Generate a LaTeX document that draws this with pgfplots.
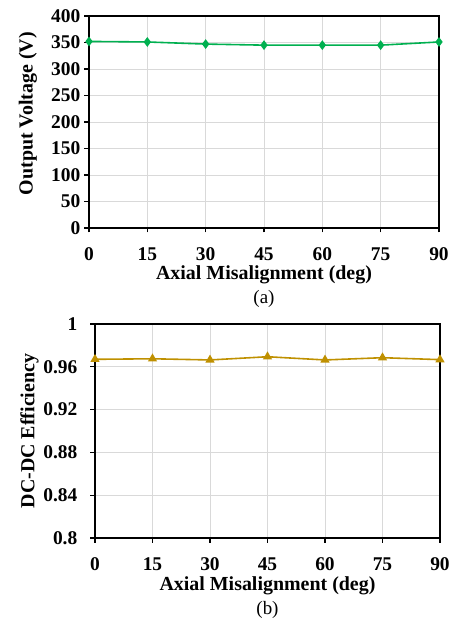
\documentclass[border=0pt]{standalone}
\usepackage{fontspec}
\setmainfont{Liberation Serif}
\usepackage{pgfplots}
\pgfplotsset{compat=1.18}
\definecolor{vgreen}{RGB}{0,176,80}
\definecolor{egold}{RGB}{191,144,0}
\definecolor{gridgray}{RGB}{217,217,217}
\pgfplotsset{
  misal/.style={
    scale only axis,
    anchor=south west,
    clip=false,
    xmin=0, xmax=90,
    xtick={0,15,...,90},
    grid=major,
    major grid style={gridgray, line width=0.8pt},
    axis line style={black, line width=1.1pt},
    tick style={black, line width=1.1pt},
    major tick length=4.5bp,
    tick align=outside,
    xtick pos=bottom, ytick pos=left,
    /pgf/number format/assume math mode=true,
    ticklabel style={font=\fontsize{19.5}{21}\selectfont\bfseries, inner sep=0pt},
    label style={font=\fontsize{20}{22}\selectfont\bfseries, inner sep=0pt},
    xlabel={Axial Misalignment (deg)},
    xticklabel style={anchor=base, yshift=-28bp},
    xlabel style={at={(axis description cs:0.5,0)}, anchor=base, yshift=-52bp},
  },
}
\begin{document}
\begin{tikzpicture}
\path (0bp,0bp) rectangle (459bp,624bp);

% Output voltage versus misalignment
\begin{axis}[misal,
  at={(89bp,396bp)}, width=350bp, height=212bp,
  ymin=0, ymax=400, ytick={0,50,...,400},
  yticklabel style={anchor=east, xshift=-4bp},
  ylabel={Output Voltage (V)},
  ylabel style={at={(axis description cs:0,0.54)}, anchor=center, yshift=61bp},
]
\addplot[vgreen, line width=1.6pt, mark=diamond*, mark size=3.6pt,
  mark options={fill=vgreen, draw=vgreen}]
  coordinates {(0,352) (15,351) (30,347) (45,345) (60,345) (75,345) (90,351)};
\draw[black, line width=2pt] (rel axis cs:0,1) -- (rel axis cs:0,0) -- (rel axis cs:1,0);
\node[font=\fontsize{19}{21}\selectfont, anchor=base, inner sep=0pt]
  at (axis description cs:0.5,0) [yshift=-76bp] {(a)};
\end{axis}

% DC-DC efficiency versus misalignment
\begin{axis}[misal,
  at={(95bp,86bp)}, width=345bp, height=214bp,
  ymin=0.8, ymax=1, ytick={0.8,0.84,0.88,0.92,0.96,1},
  yticklabel style={/pgf/number format/fixed, anchor=east, xshift=-13bp},
  ylabel={DC-DC Efficiency},
  ylabel style={at={(axis description cs:0,0.5)}, anchor=center, yshift=65.5bp},
]
\addplot[egold, line width=1.6pt, mark=triangle*, mark size=3.8pt,
  mark options={fill=egold, draw=egold}]
  coordinates {(0,0.967) (15,0.9675) (30,0.9664) (45,0.9694) (60,0.9664) (75,0.9685) (90,0.9667)};
\draw[black, line width=2pt] (rel axis cs:0,1) -- (rel axis cs:0,0) -- (rel axis cs:1,0);
\node[font=\fontsize{19}{21}\selectfont, anchor=base, inner sep=0pt]
  at (axis description cs:0.5,0) [yshift=-76bp] {(b)};
\end{axis}
\end{tikzpicture}
\end{document}
